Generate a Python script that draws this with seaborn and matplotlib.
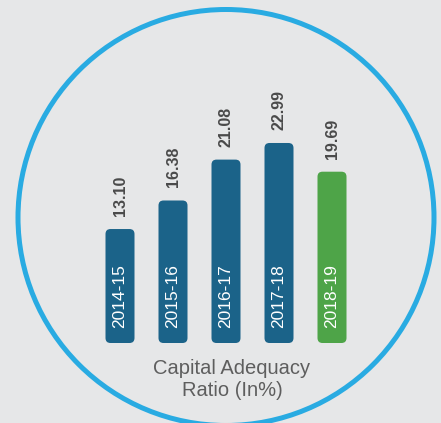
import matplotlib
matplotlib.use("Agg")
import matplotlib.pyplot as plt
import seaborn as sns
import pandas as pd
from matplotlib.patches import FancyBboxPatch, Ellipse

years = ["2014-15", "2015-16", "2016-17", "2017-18", "2018-19"]
values = [13.10, 16.38, 21.08, 22.99, 19.69]
value_labels = ["13.10", "16.38", "21.08", "22.99", "19.69"]
bar_colors = ["#1b6389", "#1b6389", "#1b6389", "#1b6389", "#4ea448"]
caption = "Capital Adequacy\nRatio (In%)"

BG = "#e6e7e8"
W, H = 441, 423
sns.set_style("white")
plt.rcParams["font.family"] = ["Liberation Sans", "DejaVu Sans"]

fig = plt.figure(figsize=(W / 100, H / 100), dpi=100, facecolor=BG)
ax = fig.add_axes([0, 0, 1, 1])
ax.set_facecolor(BG)

df = pd.DataFrame({"year": years, "value": values})
px_x = 53.0   # pixels per category
px_y = 8.7    # pixels per unit
x0_px = 120.0
base_px = 80.0  # baseline from bottom

sns.barplot(data=df, x="year", y="value", hue="year", palette=bar_colors,
            legend=False, width=29 / px_x, ax=ax, saturation=1)

ax.set_xlim(-x0_px / px_x, (W - x0_px) / px_x)
ax.set_ylim(-base_px / px_y, (H - base_px) / px_y)
ax.axis("off")

# rounded bars
r_px = 5.0
for p in list(ax.patches):
    x, y, w, h = p.get_x(), p.get_y(), p.get_width(), p.get_height()
    fc = p.get_facecolor()
    p.set_visible(False)
    fb = FancyBboxPatch((x, y), w, h,
                        boxstyle=f"round,pad=0,rounding_size={r_px / px_x}",
                        mutation_aspect=px_x / px_y,
                        facecolor=fc, edgecolor="none", zorder=3)
    ax.add_patch(fb)

for i, (yr, v, lab) in enumerate(zip(years, values, value_labels)):
    ax.text(i, 15 / px_y, yr, rotation=90, ha="center", va="bottom",
            color="white", fontsize=12.5, zorder=5)
    ax.text(i, v + 13 / px_y, lab, rotation=90, ha="center", va="bottom",
            color="#4a4a4a", fontsize=11.5, fontweight="bold", zorder=5)

fig.text(232 / W, 1 - 379 / H, caption, ha="center", va="center",
         fontsize=14.5, color="#5e5e5e", linespacing=1.2)

circ = Ellipse((226 / W, 1 - 217.5 / H), 2 * 208 / W, 2 * 208 / H,
               transform=fig.transFigure, fill=False, edgecolor="#29abe2",
               linewidth=3.6, zorder=1)
fig.patches.append(circ)

fig.savefig("out.png", dpi=100, facecolor=BG)
